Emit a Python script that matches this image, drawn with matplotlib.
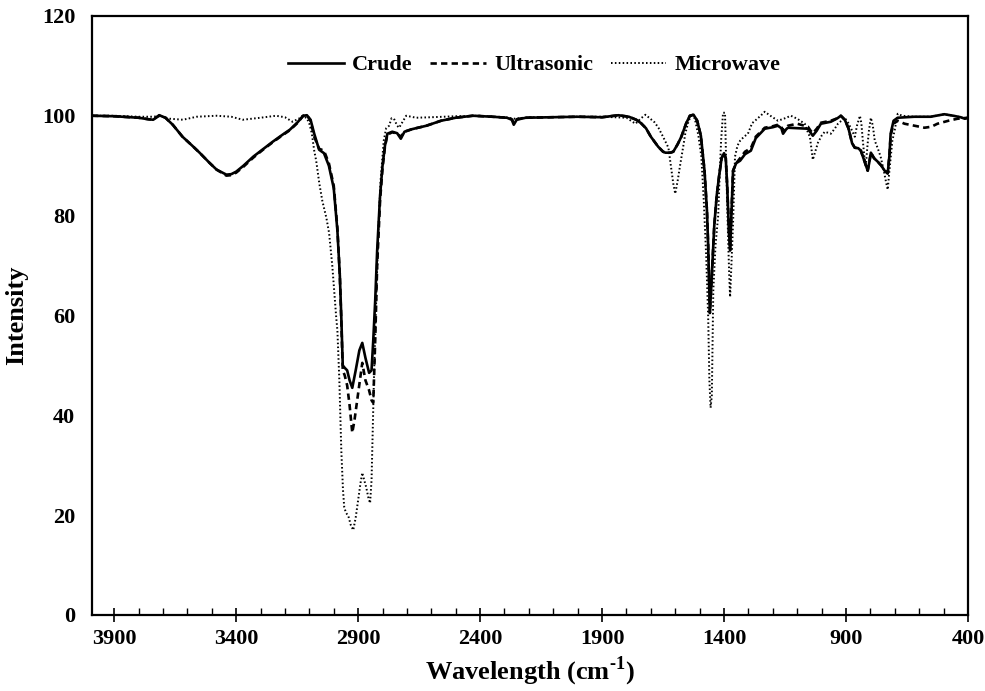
import matplotlib
matplotlib.use("Agg")
from matplotlib import pyplot as plt
from matplotlib.ticker import MultipleLocator

plt.rcParams['font.family'] = ['Liberation Serif', 'DejaVu Serif']
plt.rcParams['font.weight'] = 'bold'
plt.rcParams['mathtext.fontset'] = 'custom'
plt.rcParams['mathtext.rm'] = 'Liberation Serif:bold'
plt.rcParams['mathtext.bf'] = 'Liberation Serif:bold'

# Crude
crude_x = [3991, 3900, 3800, 3760, 3740, 3715, 3690, 3660, 3620, 3580, 3550, 3510, 3480, 3440,
           3420, 3400, 3370, 3330, 3290, 3250, 3210, 3180, 3150, 3125, 3110, 3095, 3080, 3060,
           3040, 3020, 3000, 2985, 2975, 2969, 2963, 2955, 2945, 2935, 2924, 2910, 2895, 2883,
           2870, 2855, 2845, 2838, 2830, 2822, 2810, 2800, 2790, 2780, 2760, 2740, 2725, 2710,
           2680, 2620, 2560, 2500, 2430, 2350, 2290, 2270, 2262, 2250, 2213, 2100, 2000, 1900,
           1833, 1790, 1760, 1740, 1720, 1700, 1670, 1650, 1640, 1620, 1608, 1590, 1575, 1555,
           1540, 1525, 1510, 1495, 1480, 1470, 1465, 1458, 1450, 1440, 1430, 1420, 1410, 1400,
           1393, 1387, 1380, 1375, 1370, 1363, 1350, 1334, 1314, 1290, 1270, 1233, 1200, 1179,
           1165, 1158, 1145, 1138, 1100, 1056, 1045, 1036, 1020, 1003, 962, 935, 921, 905, 890,
           875, 864, 850, 839, 825, 811, 805, 798, 785, 770, 755, 742, 729, 722, 717, 705, 688,
           620, 553, 497, 460, 430, 413, 400]
crude_y = [100, 99.9, 99.6, 99.3, 99.2, 100.1, 99.6, 98.2, 95.8, 94, 92.6, 90.6, 89.2, 88.2,
           88.3, 88.8, 90, 91.8, 93.3, 94.8, 96.2, 97.2, 98.6, 100, 100.1, 99.2, 96.4, 93.2,
           92.5, 90, 85.5, 77, 68, 59.7, 50, 49.5, 49, 47, 45.5, 49, 53, 54.5,
           51.5, 48.5, 49, 55, 63, 73, 84, 90, 94, 96.4, 96.8, 96.5, 95.4, 96.8,
           97.3, 98, 99, 99.6, 100, 99.8, 99.6, 99.2, 98.2, 99.2, 99.6, 99.7, 99.8, 99.7,
           100.1, 99.8, 99.2, 98.5, 97.5, 95.8, 93.8, 92.8, 92.6, 92.6, 92.8, 94.3, 95.8, 98.5,
           100, 100.2, 99, 96, 89, 81, 74, 60.5, 68, 78, 84, 88, 91.5, 92.5,
           91.5, 86, 77, 73, 80, 89, 90.5, 91, 92.3, 93, 95.5, 97.4, 97.7, 98,
           97.5, 96.4, 97.3, 97.6, 97.5, 97.4, 96.6, 96, 97, 98.4, 98.8, 99.5, 100, 99.2, 97.5,
           94.5, 93.6, 93.5, 93, 91, 89, 90.5, 92.6, 91.5, 90.8, 90, 89, 88.4, 92, 96.4, 99, 99.6,
           99.8, 99.8, 100.3, 100, 99.7, 99.4, 99.6]

# Ultrasonic
ultra_x = [3991, 3900, 3800, 3760, 3740, 3715, 3690, 3660, 3620, 3580, 3550, 3510, 3480, 3440,
           3420, 3400, 3370, 3330, 3290, 3250, 3210, 3180, 3150, 3125, 3110, 3095, 3080, 3060,
           3040, 3020, 3000, 2985, 2975, 2969, 2963, 2955, 2945, 2935, 2924, 2915, 2904, 2890,
           2883, 2870, 2855, 2845, 2838, 2830, 2822, 2810, 2800, 2790, 2780, 2760, 2740, 2725,
           2710, 2680, 2620, 2560, 2500, 2430, 2350, 2290, 2270, 2262, 2250, 2213, 2100, 2000,
           1900, 1833, 1790, 1760, 1740, 1720, 1700, 1670, 1650, 1640, 1620, 1608, 1590, 1575,
           1555, 1540, 1525, 1510, 1495, 1480, 1470, 1465, 1458, 1450, 1440, 1430, 1420, 1410,
           1400, 1393, 1387, 1380, 1375, 1370, 1363, 1350, 1334, 1314, 1290, 1270, 1233, 1200,
           1179, 1165, 1158, 1145, 1138, 1100, 1056, 1045, 1036, 1020, 1003, 962, 935, 921, 905,
           890, 875, 864, 850, 839, 825, 811, 805, 798, 785, 770, 755, 742, 729, 722, 717, 705,
           688, 660, 620, 578, 550, 525, 480, 443, 400]
ultra_y = [100, 99.9, 99.6, 99.3, 99.2, 100.1, 99.6, 98.2, 95.8, 94, 92.6, 90.6, 89.2, 88.0,
           88.1, 88.6, 89.8, 91.6, 93.2, 94.7, 96.1, 97.1, 98.5, 100, 100.1, 99.0, 95.8, 93.4,
           93.0, 90.5, 86, 77.5, 68, 59, 49, 48, 46, 42, 36.5, 39, 43, 48,
           50.5, 47, 45, 43, 42.5, 55, 70, 83, 89.5, 93.8, 96.2, 96.7, 96.4, 95.8,
           96.8, 97.3, 98, 99, 99.6, 100, 99.8, 99.6, 99.3, 98.6, 99.3, 99.6, 99.7, 99.8,
           99.7, 100.1, 99.8, 99.2, 98.5, 97.5, 95.8, 93.8, 92.8, 92.6, 92.6, 92.8, 94.3, 95.8,
           98.5, 100, 100.2, 99, 96, 89, 81, 74, 60.5, 68, 78, 84, 88, 91.5,
           92.5, 91.5, 86, 77, 73.5, 80, 89, 90.5, 91.5, 92.8, 93.5, 95.8, 97.6, 97.9,
           98.2, 97.8, 97.0, 97.6, 98.0, 98.4, 97.8, 97.0, 96.5, 97.4, 98.6, 99.0, 99.5, 100, 99.2,
           97.5, 94.5, 93.6, 93.5, 93, 91, 89, 90.5, 92.6, 91.5, 90.8, 90, 89, 88.6, 92, 96, 98.4,
           99, 98.4, 98, 97.6, 97.8, 98.4, 99, 99.4, 99.6]

# Microwave
micro_x = [3991, 3900, 3800, 3750, 3710, 3672, 3618, 3562, 3480, 3420, 3373, 3300, 3237, 3200,
           3169, 3140, 3128, 3110, 3100, 3090, 3080, 3072, 3059, 3047, 3030, 3019, 3006, 2990,
           2985, 2977, 2969, 2962, 2957, 2950, 2940, 2930, 2920, 2910, 2900, 2890, 2883, 2875,
           2867, 2858, 2851, 2845, 2842, 2834, 2826, 2818, 2808, 2795, 2785, 2773, 2763, 2753,
           2740, 2732, 2715, 2703, 2662, 2600, 2500, 2400, 2300, 2262, 2200, 2000, 1900, 1800,
           1763, 1740, 1722, 1700, 1685, 1669, 1650, 1628, 1615, 1608, 1600, 1590, 1579, 1565,
           1559, 1545, 1534, 1520, 1505, 1493, 1483, 1473, 1465, 1460, 1455, 1450, 1444, 1435,
           1424, 1418, 1412, 1404, 1396, 1392, 1388, 1383, 1378, 1375, 1370, 1363, 1355, 1345,
           1334, 1318, 1302, 1285, 1273, 1250, 1233, 1210, 1179, 1150, 1126, 1100, 1069, 1055,
           1048, 1036, 1025, 1015, 1000, 987, 962, 945, 933, 905, 890, 875, 864, 855, 843, 837,
           831, 824, 819, 812, 806, 798, 790, 782, 770, 758, 745, 735, 729, 722, 710, 700, 688,
           670, 620, 553, 497, 460, 430, 413, 400]
micro_y = [100, 100, 99.8, 99.8, 99.9, 99.4, 99.2, 99.8, 100, 99.8, 99.2, 99.6, 100, 99.7,
           98.8, 99.5, 100, 99.5, 98.4, 96.5, 93, 91, 86.4, 83, 79.5, 76.5, 70, 59.7,
           57, 47, 33, 25, 21.6, 20.5, 19.8, 18, 17, 19.5, 23, 26.5, 28.5, 27,
           25.6, 23.5, 22.4, 27, 33, 49.6, 63, 76, 87, 95, 97.5, 98, 99.5, 99.4,
           98, 97.6, 99, 100, 99.6, 99.7, 99.9, 100, 99.7, 99.4, 99.7, 99.8, 99.8, 99.6,
           98.4, 99.5, 100.2, 99.3, 98.7, 97.6, 95.8, 93.6, 89, 86.4, 84.4, 87, 90.4, 94.5,
           96.4, 99, 100, 99.5, 96, 91.8, 83, 71.7, 59.7, 47, 41.5, 44, 65, 74,
           80, 88, 95, 100.6, 100.6, 91.8, 84, 75, 67, 63.7, 70, 78.5, 91.8, 94,
           95, 95.8, 96.4, 98.5, 99, 100, 100.8, 100, 99, 99.5, 100, 99.4, 98.4, 96.5,
           95.8, 91.2, 93, 94.6, 96, 96.8, 96.4, 97.5, 98.4, 99.6, 98.5, 97, 95.8, 98, 100, 98.5,
           95, 91.5, 89.8, 94, 97, 99.6, 98, 95, 93.5, 91.8, 89, 86.5, 85.2, 89, 95, 97.2, 100.4,
           100, 99.8, 99.8, 100.3, 100, 99.7, 99.4, 99.6]

fig = plt.figure(figsize=(9.85, 6.91), dpi=100)
ax = fig.add_axes([0.0934, 0.110, 0.8893, 0.867])

ax.plot(crude_x, crude_y, color='black', lw=1.9, ls='-', label='Crude')
ax.plot(ultra_x, ultra_y, color='black', lw=1.9, ls=(0, (2.4, 1.6)), label='Ultrasonic')
ax.plot(micro_x, micro_y, color='black', lw=1.4, ls=(0, (0.8, 1.2)), label='Microwave')

ax.set_xlim(3991, 403)
ax.set_ylim(0, 120)
ax.xaxis.set_minor_locator(MultipleLocator(100))
ax.set_xticks([3900, 3400, 2900, 2400, 1900, 1400, 900, 400])
ax.yaxis.set_major_locator(MultipleLocator(20))

for s in ax.spines.values():
    s.set_linewidth(1.6)

ax.tick_params(axis='x', which='major', direction='inout', length=10, width=1.2,
               labelsize=16, pad=5)
ax.tick_params(axis='x', which='minor', direction='in', length=5, width=1.0)
ax.tick_params(axis='y', which='both', length=0, labelsize=16, pad=12)
for lab in ax.get_xticklabels() + ax.get_yticklabels():
    lab.set_fontweight('bold')

ax.set_xlabel('Wavelength (cm$^{\\text{-1}}$)', fontsize=19, fontweight='bold', labelpad=4)
ax.set_ylabel('Intensity', fontsize=19, fontweight='bold', labelpad=10)

leg = ax.legend(loc='center', bbox_to_anchor=(0.505, 0.918), ncol=3, frameon=False,
                prop={'weight': 'bold', 'size': 16}, handlelength=2.5,
                columnspacing=0.8, handletextpad=0.36)

fig.savefig('out.png', dpi=100)
